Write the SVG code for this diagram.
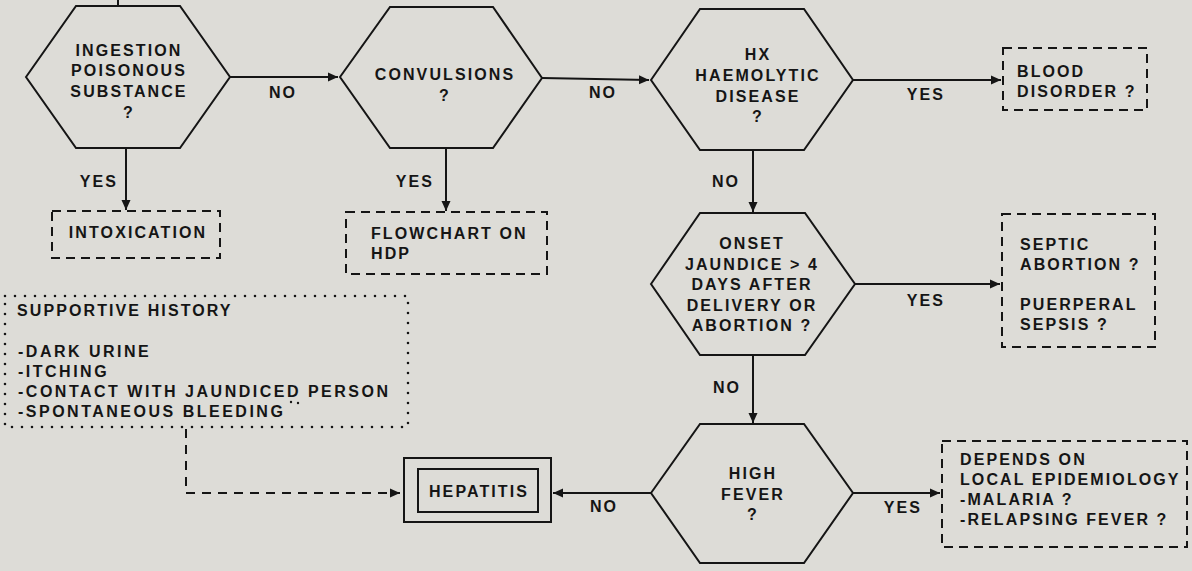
<svg xmlns="http://www.w3.org/2000/svg" width="1192" height="571" viewBox="0 0 1192 571">
<defs>
<marker id="arr" markerUnits="userSpaceOnUse" markerWidth="12" markerHeight="10" refX="10" refY="5" orient="auto">
<path d="M0,0.5 L10,5 L0,9.5 z" fill="#151515"/>
</marker>
<style>
text{font-family:"Liberation Sans",Arial,sans-serif;font-size:16px;font-weight:bold;letter-spacing:2.1px;fill:#151515}
.c{text-anchor:middle}
.s{letter-spacing:2.5px}
.hex{fill:none;stroke:#151515;stroke-width:2;stroke-linejoin:miter}
.dash{fill:none;stroke:#151515;stroke-width:2;stroke-dasharray:9 6}
.dot{fill:none;stroke:#151515;stroke-width:2.6;stroke-linecap:round;stroke-dasharray:0 10}
.solid{fill:none;stroke:#151515;stroke-width:2}
.ln{fill:none;stroke:#151515;stroke-width:2}
.dln{fill:none;stroke:#151515;stroke-width:2;stroke-dasharray:9 7}
</style>
</defs>
<rect width="1192" height="571" fill="#dddcd7"/>

<g id="connectors">
<path class="ln" d="M118,0 V6"/>
<path class="ln" d="M230,77 H338" marker-end="url(#arr)"/>
<path class="ln" d="M542,78 L649,80" marker-end="url(#arr)"/>
<path class="ln" d="M853,80 H1001" marker-end="url(#arr)"/>
<path class="ln" d="M126,148 V210" marker-end="url(#arr)"/>
<path class="ln" d="M446,148 V211" marker-end="url(#arr)"/>
<path class="ln" d="M753,150 V212" marker-end="url(#arr)"/>
<path class="ln" d="M855,284 H1000" marker-end="url(#arr)"/>
<path class="ln" d="M753,355 V423" marker-end="url(#arr)"/>
<path class="ln" d="M853,493 H940" marker-end="url(#arr)"/>
<path class="ln" d="M651,493 H553" marker-end="url(#arr)"/>
<path class="dln" d="M186,429 V493 H400" marker-end="url(#arr)"/>
<text class="c" x="283" y="98">NO</text>
<text class="c" x="603" y="98">NO</text>
<text class="c" x="926" y="100">YES</text>
<text class="c" x="99" y="187">YES</text>
<text class="c" x="415" y="187">YES</text>
<text class="c" x="726" y="187">NO</text>
<text class="c" x="926" y="306">YES</text>
<text class="c" x="727" y="393">NO</text>
<text class="c" x="903" y="513">YES</text>
<text class="c" x="604" y="512">NO</text>
</g>

<g id="ingestion">
<polygon class="hex" points="26,77 76,6 180,6 230,77 180,148 76,148"/>
<text class="c" x="129" y="56">INGESTION</text>
<text class="c" x="129" y="76">POISONOUS</text>
<text class="c" x="129" y="97">SUBSTANCE</text>
<text class="c" x="129" y="118">?</text>
</g>

<g id="intoxication">
<rect class="dash" x="52" y="211" width="168" height="47"/>
<text class="c" x="138" y="238">INTOXICATION</text>
</g>

<g id="convulsions">
<polygon class="hex" points="340,77 390,7 493,7 542,78 493,148 390,148"/>
<text class="c" x="445" y="80">CONVULSIONS</text>
<text class="c" x="445" y="101">?</text>
</g>

<g id="flowchart">
<rect class="dash" x="346" y="212" width="201" height="62"/>
<text x="371" y="239">FLOWCHART ON</text>
<text x="371" y="259">HDP</text>
</g>

<g id="haemolytic">
<polygon class="hex" points="651,80 700,9 804,9 853,80 804,150 700,150"/>
<text class="c" x="758" y="60">HX</text>
<text class="c" x="758" y="81">HAEMOLYTIC</text>
<text class="c" x="758" y="102">DISEASE</text>
<text class="c" x="758" y="122">?</text>
</g>

<g id="blood">
<rect class="dash" x="1003" y="48" width="144" height="62"/>
<text x="1017" y="77">BLOOD</text>
<text x="1017" y="97">DISORDER ?</text>
</g>

<g id="onset">
<polygon class="hex" points="651,284 700,213 805,213 855,284 805,355 700,355"/>
<text class="c" x="752" y="249">ONSET</text>
<text class="c" x="752" y="270">JAUNDICE &gt; 4</text>
<text class="c" x="752" y="290">DAYS AFTER</text>
<text class="c" x="752" y="311">DELIVERY OR</text>
<text class="c" x="752" y="331">ABORTION ?</text>
</g>

<g id="septic">
<rect class="dash" x="1002" y="214" width="153" height="133"/>
<text x="1020" y="250">SEPTIC</text>
<text x="1020" y="270">ABORTION ?</text>
<text x="1020" y="310">PUERPERAL</text>
<text x="1020" y="330">SEPSIS ?</text>
</g>

<g id="fever">
<polygon class="hex" points="651,493 700,424 804,424 853,493 804,563 700,563"/>
<text class="c" x="753" y="479">HIGH</text>
<text class="c" x="753" y="500">FEVER</text>
<text class="c" x="753" y="520">?</text>
</g>

<g id="depends">
<rect class="dash" x="942" y="441" width="245" height="106"/>
<text x="960" y="465">DEPENDS ON</text>
<text x="960" y="485" letter-spacing="1.7">LOCAL EPIDEMIOLOGY</text>
<text x="960" y="505">-MALARIA ?</text>
<text x="960" y="525">-RELAPSING FEVER ?</text>
</g>

<g id="supportive">
<rect class="dot" x="5" y="296" width="403" height="131"/>
<circle cx="291" cy="402" r="1.2" fill="#151515"/>
<circle cx="298" cy="403" r="1.2" fill="#151515"/>
<text x="17" y="316" letter-spacing="2.8">SUPPORTIVE HISTORY</text>
<text class="s" x="18" y="357">-DARK URINE</text>
<text class="s" x="18" y="377">-ITCHING</text>
<text class="s" x="18" y="397">-CONTACT WITH JAUNDICED PERSON</text>
<text class="s" x="18" y="417">-SPONTANEOUS BLEEDING</text>
</g>

<g id="hepatitis">
<rect class="solid" x="404" y="458" width="147" height="64"/>
<rect class="solid" x="418" y="469" width="120" height="43"/>
<text class="c" x="479" y="497">HEPATITIS</text>
</g>
</svg>
